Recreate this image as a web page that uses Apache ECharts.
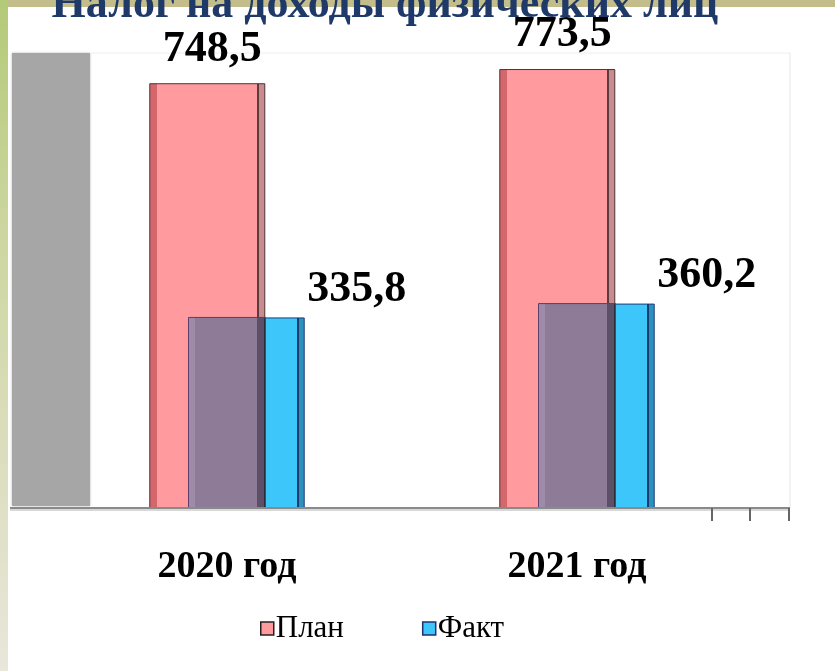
<!DOCTYPE html>
<html>
<head>
<meta charset="utf-8">
<script src="https://cdn.jsdelivr.net/npm/echarts@6/dist/echarts.min.js"></script>
<style>
  html, body { margin: 0; padding: 0; }
  #chart { width: 835px; height: 671px; }
</style>
</head>
<body>
<div id="chart"></div>
<script>
// data
var years = ['2020 год', '2021 год']
var plan = [748.5, 773.5]
var fact = [335.8, 360.2]
var seriesNames = ['План', 'Факт']

var serif = "'Liberation Serif', 'Times New Roman', serif"

function fmt (v) {
  return v.toFixed(1).replace('.', ',')
}

// hard-edged horizontal gradient from [pos, color] pairs
function stripes (list) {
  var stops = []
  for (var i = 0; i < list.length; i++) {
    var end = i + 1 < list.length ? list[i + 1][0] : 1
    stops.push({offset: list[i][0], color: list[i][1]})
    stops.push({offset: end, color: list[i][1]})
  }
  return new echarts.graphic.LinearGradient(0, 0, 1, 0, stops)
}

// part where plan and fact bars cover each other
var overlap = years.map(function (y, i) {
  return [i, Math.min(plan[i], fact[i])]
})

var barW = 0.3314 // of category band
var half = 0.11 // overlap half width, of band

var myChart = echarts.init(document.getElementById('chart'))

var option = {
  backgroundColor: '#fff',
  animation: false,
  title: {
    text: 'Налог на доходы физических лиц',
    left: 380,
    textAlign: 'center',
    top: -21,
    textStyle: {
      color: '#1F3A68',
      fontFamily: serif,
      fontWeight: 'bold',
      fontSize: 44
    }
  },
  graphic: [
    // slide background
    {type: 'rect', z: -10, shape: {x: 0, y: 0, width: 835, height: 7}, style: {fill: '#C3BC8B'}},
    {
      type: 'rect', z: -10,
      shape: {x: 0, y: 0, width: 8, height: 671},
      style: {
        fill: new echarts.graphic.LinearGradient(0, 0, 0, 1, [
          {offset: 0, color: '#B3CA78'},
          {offset: 0.35, color: '#CDD6A0'},
          {offset: 1, color: '#E9E6DB'}
        ])
      }
    },
    // back wall
    {
      type: 'rect', z: -5,
      shape: {x: 12, y: 53, width: 78, height: 453},
      style: {fill: '#A6A6A6', shadowBlur: 2, shadowColor: 'rgba(0,0,0,0.3)'}
    },
    // plot frame
    {type: 'line', z: -5, shape: {x1: 90, y1: 53, x2: 790, y2: 53}, style: {stroke: '#EEEEEE', lineWidth: 1}},
    {type: 'line', z: -5, shape: {x1: 790, y1: 53, x2: 790, y2: 508}, style: {stroke: '#E6E6E6', lineWidth: 1}},
    // floor line
    {type: 'line', z: 10, shape: {x1: 10, y1: 510, x2: 790, y2: 510}, style: {stroke: '#D8D8D8', lineWidth: 2}},
    {type: 'line', z: 10, shape: {x1: 10, y1: 508, x2: 790, y2: 508}, style: {stroke: '#8A8A8A', lineWidth: 2}},
    {type: 'line', z: 10, shape: {x1: 712, y1: 508, x2: 712, y2: 521}, style: {stroke: '#666', lineWidth: 2}},
    {type: 'line', z: 10, shape: {x1: 750, y1: 508, x2: 750, y2: 521}, style: {stroke: '#666', lineWidth: 2}},
    {type: 'line', z: 10, shape: {x1: 789, y1: 508, x2: 789, y2: 521}, style: {stroke: '#666', lineWidth: 2}}
  ],
  legend: {
    left: 255,
    top: 608,
    itemWidth: 13,
    itemHeight: 13,
    itemGap: 78,
    icon: 'rect',
    textStyle: {fontFamily: serif, fontSize: 31, color: '#000', padding: [0, 0, 0, -3]},
    data: [
      {name: seriesNames[0], itemStyle: {color: '#FF9B9E', borderColor: '#222', borderWidth: 1.5}},
      {name: seriesNames[1], itemStyle: {color: '#3CC6FA', borderColor: '#1E3270', borderWidth: 1.5}}
    ]
  },
  grid: {
    left: 52,
    right: 83,
    top: 54,
    bottom: 163
  },
  xAxis: {
    type: 'category',
    data: years,
    axisLine: {show: false},
    axisTick: {show: false},
    axisLabel: {
      margin: 40,
      color: '#000',
      fontFamily: serif,
      fontWeight: 'bold',
      fontSize: 38
    }
  },
  yAxis: {
    type: 'value',
    min: 0,
    max: 800,
    show: false,
    splitLine: {show: false}
  },
  series: [
    {
      name: seriesNames[0],
      type: 'bar',
      data: plan,
      barWidth: (barW * 100) + '%',
      barGap: '-66%',
      itemStyle: {
        color: stripes([
          [0, '#D4676B'],
          [0.065, '#FF9B9E'],
          [0.93, '#5A3C3E'],
          [0.945, '#C98B8D']
        ]),
        borderColor: '#4A3434',
        borderWidth: 1
      },
      label: {
        show: true,
        position: 'top',
        distance: 12,
        offset: [5, 0],
        formatter: function (p) { return fmt(p.value) },
        color: '#000',
        fontFamily: serif,
        fontWeight: 'bold',
        fontSize: 44
      }
    },
    {
      name: seriesNames[1],
      type: 'bar',
      data: fact,
      barWidth: (barW * 100) + '%',
      itemStyle: {
        color: stripes([
          [0, '#5FD0F8'],
          [0.06, '#3CC6FA'],
          [0.935, '#1B3A6E'],
          [0.95, '#2B92BE']
        ]),
        borderColor: '#1E3C78',
        borderWidth: 1
      },
      label: {
        show: true,
        position: 'top',
        distance: 6,
        offset: [110, 0],
        formatter: function (p) { return fmt(p.value) },
        color: '#000',
        fontFamily: serif,
        fontWeight: 'bold',
        fontSize: 44
      }
    },
    {
      type: 'custom',
      z: 3,
      silent: true,
      data: overlap,
      renderItem: function (params, api) {
        var band = api.size([1, 0])[0]
        var top = api.coord([api.value(0), api.value(1)])
        var base = api.coord([api.value(0), 0])
        return {
          type: 'rect',
          shape: {
            x: top[0] - band * half,
            y: top[1],
            width: band * half * 2,
            height: base[1] - top[1]
          },
          style: {
            fill: stripes([
              [0, '#9D8BA9'],
              [0.09, '#8E7B98'],
              [0.89, '#5C5069'],
              [0.97, '#2E2E3A']
            ]),
            stroke: '#5E3F6A',
            lineWidth: 1
          }
        }
      }
    }
  ]
}

myChart.setOption(option)
</script>
</body>
</html>
